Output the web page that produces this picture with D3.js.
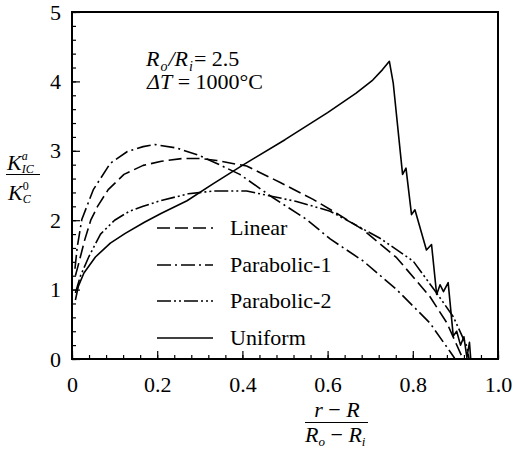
<!DOCTYPE html>
<html><head><meta charset="utf-8">
<script src="https://cdn.jsdelivr.net/npm/d3@7"></script>
<style>
body{margin:0;background:#fff;}
svg{display:block;}
svg text{font-family:"Liberation Serif","Times New Roman",serif;fill:#000;}
</style></head>
<body><svg id="c" width="512" height="452"></svg>
<script>
const xTicks=[0,0.2,0.4,0.6,0.8,1.0];
const xTickLabels=["0","0.2","0.4","0.6","0.8","1.0"];
const yTicks=[0,1,2,3,4,5];
const yTickLabels=["0","1","2","3","4","5"];
const seriesNames=["Linear","Parabolic-1","Parabolic-2","Uniform"];
const linear=[[0.008,1.2],[0.015,1.36],[0.03,1.72],[0.044,2.0],[0.06,2.2],[0.085,2.44],[0.122,2.66],[0.167,2.79],[0.21,2.85],[0.26,2.89],[0.3,2.89],[0.34,2.86],[0.41,2.78],[0.49,2.54],[0.566,2.3],[0.621,2.1],[0.684,1.86],[0.762,1.46],[0.84,0.9],[0.88,0.52],[0.915,0.04],[0.918,0]];
const parabolic1=[[0.007,1.3],[0.012,1.6],[0.023,2.01],[0.05,2.44],[0.09,2.82],[0.13,2.99],[0.167,3.06],[0.195,3.09],[0.246,3.04],[0.3,2.93],[0.332,2.84],[0.394,2.66],[0.473,2.32],[0.551,2.01],[0.606,1.73],[0.684,1.41],[0.762,1.0],[0.84,0.52],[0.895,0.04],[0.899,0]];
const parabolic2=[[0.008,0.95],[0.02,1.2],[0.04,1.48],[0.067,1.8],[0.1,2.0],[0.135,2.13],[0.167,2.2],[0.207,2.28],[0.273,2.38],[0.332,2.42],[0.41,2.42],[0.465,2.35],[0.527,2.27],[0.606,2.13],[0.723,1.74],[0.801,1.41],[0.856,0.95],[0.895,0.61],[0.927,0.18],[0.932,0]];
const uniform=[[0.008,0.85],[0.015,1.05],[0.028,1.24],[0.055,1.47],[0.09,1.67],[0.125,1.81],[0.17,1.97],[0.21,2.1],[0.27,2.28],[0.33,2.52],[0.4,2.79],[0.5,3.16],[0.6,3.55],[0.667,3.83],[0.706,4.02],[0.729,4.17],[0.745,4.29],[0.754,3.98],[0.776,2.66],[0.784,2.75],[0.797,2.08],[0.805,2.15],[0.832,1.57],[0.844,1.65],[0.856,0.93],[0.864,1.07],[0.872,0.97],[0.883,1.1],[0.895,0.33],[0.903,0.4],[0.912,0.2],[0.92,0.32],[0.927,0.02],[0.933,0.24],[0.936,0]];
const seriesData=[linear,parabolic1,parabolic2,uniform];
const dashes=["13,5","14,4,2,4","14,3,2,3,2,3",null];

const svg=d3.select("#c");
const L=72,R=498,T=12,B=359;
const x=d3.scaleLinear().domain([0,1]).range([L,R]);
const y=d3.scaleLinear().domain([0,5]).range([B,T]);
const FS=22;

// minor ticks
const xMinor=d3.range(0,1.0001,0.04);
const yMinor=d3.range(0,5.0001,0.2);
svg.append("g").attr("transform",`translate(0,${B})`)
  .call(d3.axisBottom(x).tickValues(xMinor).tickSize(-4).tickFormat(""))
  .call(g=>g.select(".domain").remove());
svg.append("g").attr("transform",`translate(${L},0)`)
  .call(d3.axisLeft(y).tickValues(yMinor).tickSize(-4).tickFormat(""))
  .call(g=>g.select(".domain").remove());
// major ticks
const gx=svg.append("g").attr("transform",`translate(0,${B})`)
  .call(d3.axisBottom(x).tickValues(xTicks).tickSize(-8).tickPadding(17).tickFormat((d,i)=>xTickLabels[i]));
gx.select(".domain").remove();
gx.selectAll("text").attr("font-size",FS);
const gy=svg.append("g").attr("transform",`translate(${L},0)`)
  .call(d3.axisLeft(y).tickValues(yTicks).tickSize(-8).tickPadding(11).tickFormat((d,i)=>yTickLabels[i]));
gy.select(".domain").remove();
gy.selectAll("text").attr("font-size",FS);
svg.selectAll(".tick line").attr("stroke","#000").attr("stroke-width",1.2);

// frame
svg.append("rect").attr("x",L).attr("y",T).attr("width",R-L).attr("height",B-T)
  .attr("fill","none").attr("stroke","#000").attr("stroke-width",2);

// curves
const line=d3.line().x(d=>x(d[0])).y(d=>y(d[1]));
svg.append("g").selectAll("path").data(seriesData).join("path")
  .attr("d",line).attr("fill","none").attr("stroke","#000").attr("stroke-width",1.6)
  .attr("stroke-linejoin","round")
  .attr("stroke-dasharray",(d,i)=>dashes[i]);

// legend
const legY=[228,265,301,338];
const lg=svg.append("g");
seriesNames.forEach((n,i)=>{
  lg.append("line").attr("x1",157).attr("x2",213).attr("y1",legY[i]).attr("y2",legY[i])
    .attr("stroke","#000").attr("stroke-width",1.6).attr("stroke-dasharray",dashes[i]);
  lg.append("text").attr("x",230).attr("y",legY[i]+7).attr("font-size",FS).text(n);
});

// annotation
const a1=svg.append("text").attr("x",146).attr("y",66).attr("font-size",FS);
a1.append("tspan").attr("font-style","italic").text("R");
a1.append("tspan").attr("font-style","italic").attr("font-size",14).attr("dy",5).attr("dx",1).text("o");
a1.append("tspan").attr("font-style","italic").attr("dy",-5).attr("dx",1).text("/R");
a1.append("tspan").attr("font-style","italic").attr("font-size",14).attr("dy",5).attr("dx",1).text("i");
a1.append("tspan").attr("dy",-5).attr("dx",1).text("= 2.5");
const a2=svg.append("text").attr("x",147).attr("y",89).attr("font-size",FS);
a2.append("tspan").attr("font-style","italic").text("ΔT");
a2.append("tspan").text(" = 1000°C");

// y label
const yl=svg.append("g");
const yn=yl.append("text").attr("x",7).attr("y",170).attr("font-size",22);
yn.append("tspan").attr("font-style","italic").text("K");
yn.append("tspan").attr("font-style","italic").attr("font-size",12).attr("dy",-10).text("a");
yn.append("tspan").attr("font-style","italic").attr("font-size",12).attr("dy",13).attr("dx",-6).text("IC");
yl.append("line").attr("x1",6).attr("x2",40).attr("y1",174.5).attr("y2",174.5).attr("stroke","#000").attr("stroke-width",1);
const yd=yl.append("text").attr("x",8).attr("y",200).attr("font-size",22);
yd.append("tspan").attr("font-style","italic").text("K");
yd.append("tspan").attr("font-size",12).attr("dy",-10).text("0");
yd.append("tspan").attr("font-style","italic").attr("font-size",12).attr("dy",13).attr("dx",-6).text("C");

// x label
const xl=svg.append("g");
const xn=xl.append("text").attr("x",337).attr("y",417).attr("font-size",FS).attr("text-anchor","middle");
xn.append("tspan").attr("font-style","italic").text("r");
xn.append("tspan").text(" − ");
xn.append("tspan").attr("font-style","italic").text("R");
xl.append("line").attr("x1",305).attr("x2",368).attr("y1",422.5).attr("y2",422.5).attr("stroke","#000").attr("stroke-width",1);
const xd=xl.append("text").attr("x",305).attr("y",442).attr("font-size",FS);
xd.append("tspan").attr("font-style","italic").text("R");
xd.append("tspan").attr("font-style","italic").attr("font-size",13).attr("dy",4).text("o");
xd.append("tspan").attr("dy",-4).text(" − ");
xd.append("tspan").attr("font-style","italic").text("R");
xd.append("tspan").attr("font-style","italic").attr("font-size",13).attr("dy",4).text("i");
</script></body></html>
